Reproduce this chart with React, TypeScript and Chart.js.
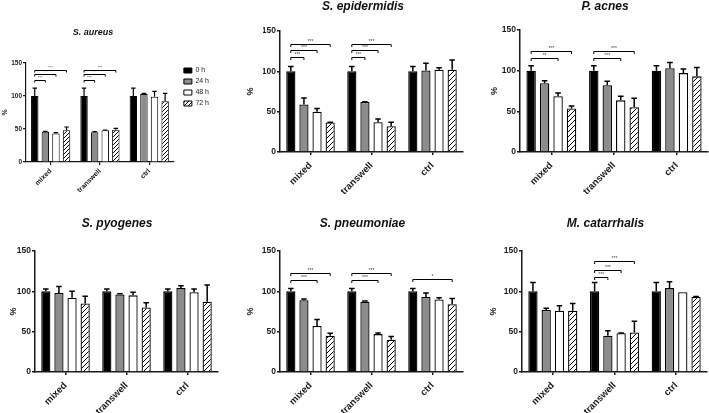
import React, { useEffect, useRef } from "react";
import { Chart, registerables } from "chart.js";

Chart.register(...registerables);
Chart.defaults.font.family = "'Liberation Sans', Arial, Helvetica, sans-serif";

// ---------------- data ----------------
const categories = ["mixed", "transwell", "ctrl"];
const seriesLabels = ["0 h", "24 h", "48 h", "72 h"];
const yTicks = [0, 50, 100, 150];
const yAxisLabel = "%";
const panelTitles = ["S. aureus", "S. epidermidis", "P. acnes", "S. pyogenes", "S. pneumoniae", "M. catarrhalis"];

// rows = series (0 h, 24 h, 48 h, 72 h), columns = categories (mixed, transwell, ctrl)
const aureusMeans = [[100, 100, 100], [46, 45, 103], [43, 48, 99], [48, 49, 92]];
const aureusErrors = [[12, 12, 12], [0.5, 1, 1], [1.5, 0.5, 8], [5, 2, 12]];
const epidermidisMeans = [[100, 100, 100], [59, 62, 101], [50, 37, 102], [36.5, 32, 102]];
const epidermidisErrors = [[6, 6, 6], [8, 0.3, 9], [4, 4, 2.5], [0.5, 5, 12]];
const acnesMeans = [[100, 100, 100], [84.5, 82, 103], [68.5, 63.5, 97], [53.5, 55, 93]];
const acnesErrors = [[6, 6, 6], [3, 5, 7], [4, 5, 5], [3, 11, 11]];
const pyogenesMeans = [[100, 100, 100], [98, 96, 104], [92, 95, 99], [85, 80, 87]];
const pyogenesErrors = [[3, 3, 3], [8, 1, 3], [8, 4, 4], [9, 6, 21]];
const pneumoniaeMeans = [[100, 100, 100], [89, 87, 93], [57, 47, 90], [45, 40, 84]];
const pneumoniaeErrors = [[3.5, 3.5, 3.5], [1.5, 1, 5], [8, 1.5, 2], [3, 4, 7]];
const catarrhalisMeans = [[100, 100, 100], [77, 45, 104], [76, 48, 99], [76, 49, 93]];
const catarrhalisErrors = [[11, 11, 11], [2, 6, 8], [6, 0.5, 0], [9, 14, 0.5]];

// significance brackets: category index, from series, to series, bracket height (data units), label
type Sig = { cat: number; from: number; to: number; y: number; label: string };
const aureusSig: Sig[] = [
  { cat: 0, from: 0, to: 1, y: 124.5, label: "***" },
  { cat: 0, from: 0, to: 2, y: 133, label: "***" },
  { cat: 0, from: 0, to: 3, y: 140, label: "***" },
  { cat: 1, from: 0, to: 1, y: 124.5, label: "***" },
  { cat: 1, from: 0, to: 2, y: 133, label: "***" },
  { cat: 1, from: 0, to: 3, y: 140, label: "***" },
];
const epidermidisSig: Sig[] = [
  { cat: 0, from: 0, to: 1, y: 118, label: "***" },
  { cat: 0, from: 0, to: 2, y: 126, label: "***" },
  { cat: 0, from: 0, to: 3, y: 134, label: "***" },
  { cat: 1, from: 0, to: 1, y: 118, label: "***" },
  { cat: 1, from: 0, to: 2, y: 126, label: "***" },
  { cat: 1, from: 0, to: 3, y: 134, label: "***" },
];
const acnesSig: Sig[] = [
  { cat: 0, from: 0, to: 2, y: 115, label: "**" },
  { cat: 0, from: 0, to: 3, y: 124, label: "***" },
  { cat: 1, from: 0, to: 2, y: 115, label: "***" },
  { cat: 1, from: 0, to: 3, y: 124, label: "***" },
];
const pyogenesSig: Sig[] = [];
const pneumoniaeSig: Sig[] = [
  { cat: 0, from: 0, to: 2, y: 114.5, label: "***" },
  { cat: 0, from: 0, to: 3, y: 123, label: "***" },
  { cat: 1, from: 0, to: 2, y: 114.5, label: "***" },
  { cat: 1, from: 0, to: 3, y: 123, label: "***" },
  { cat: 2, from: 0, to: 3, y: 115, label: "*" },
];
const catarrhalisSig: Sig[] = [
  { cat: 1, from: 0, to: 1, y: 118, label: "***" },
  { cat: 1, from: 0, to: 2, y: 126, label: "***" },
  { cat: 1, from: 0, to: 3, y: 137, label: "***" },
];

// ---------------- layout / style ----------------
type Spec = {
  L: number; R: number; T: number; B: number; // target chart area (page px)
  tx: number; ty: number; px: number;          // title centre x/y, y-title centre x
  Lc: number; Tc: number; Bc: number; pR: number;
  W?: number; yW?: number; legend?: boolean; gap?: number;
  titleSize: number; yTickSize: number; xTickSize: number; yTitleSize: number; xPad: number;
  sigSize: number; sigDrop: number; bw: number; lw: number; hatch: number;
};

const big = { titleSize: 12, yTickSize: 8.5, xTickSize: 9.5, yTitleSize: 9, xPad: 5, sigSize: 5, sigDrop: 2.5, bw: 1.3, lw: 1.5, hatch: 5 };
const specs: Spec[] = [
  { L: 26, R: 174, T: 63, B: 162, tx: 93, ty: 32.5, px: 5.5, Lc: -33, Tc: 15, Bc: 200, pR: 0, W: 252, yW: 59, legend: true, gap: 6,
    titleSize: 9, yTickSize: 6.5, xTickSize: 7, yTitleSize: 7, xPad: 2, sigSize: 4, sigDrop: 2, bw: 1, lw: 1.2, hatch: 4 },
  { L: 280, R: 463, T: 31, B: 152, tx: 363, ty: 7, px: 251, Lc: 240, Tc: 0, Bc: 200, pR: 3, ...big },
  { L: 520, R: 708, T: 30, B: 152, tx: 605, ty: 6.5, px: 495, Lc: 480, Tc: 0, Bc: 200, pR: 1, ...big },
  { L: 35, R: 218, T: 251, B: 372, tx: 117, ty: 223.5, px: 13.3, Lc: 0, Tc: 205, Bc: 413, pR: 3, ...big },
  { L: 280, R: 463, T: 251, B: 372, tx: 362.5, ty: 224, px: 250.7, Lc: 240, Tc: 205, Bc: 413, pR: 3, ...big },
  { L: 522, R: 707, T: 251, B: 372, tx: 605.5, ty: 224, px: 493.3, Lc: 480, Tc: 205, Bc: 413, pR: 2, ...big },
];

const panelData = [
  { means: aureusMeans, errors: aureusErrors, sig: aureusSig },
  { means: epidermidisMeans, errors: epidermidisErrors, sig: epidermidisSig },
  { means: acnesMeans, errors: acnesErrors, sig: acnesSig },
  { means: pyogenesMeans, errors: pyogenesErrors, sig: pyogenesSig },
  { means: pneumoniaeMeans, errors: pneumoniaeErrors, sig: pneumoniaeSig },
  { means: catarrhalisMeans, errors: catarrhalisErrors, sig: catarrhalisSig },
];

function geom(s: Spec) {
  const yW = s.yW ?? s.L + s.R - 2 * s.tx;
  const pL = s.L - yW - s.Lc;
  const W = s.W ?? s.R - s.Lc + s.pR;
  const H = s.Bc - s.Tc;
  const xH = s.Bc - s.B;
  const lh = s.titleSize * 1.2;
  const tTop = s.ty - s.Tc - lh / 2;
  const tBottom = s.T - s.Tc - lh - tTop;
  const ylh = s.yTitleSize * 1.2;
  const yTitlePad = s.px - (s.L - yW) - ylh / 2;
  return { yW, pL, W, H, xH, tTop, tBottom, yTitlePad };
}

function makeHatch(size: number) {
  const c = document.createElement("canvas");
  c.width = size; c.height = size;
  const g = c.getContext("2d")!;
  g.fillStyle = "#ffffff";
  g.fillRect(0, 0, size, size);
  g.strokeStyle = "#000000";
  g.lineWidth = 1;
  g.beginPath();
  g.moveTo(-1, size + 1); g.lineTo(size + 1, -1);
  g.moveTo(-1, 1); g.lineTo(1, -1);
  g.moveTo(size - 1, size + 1); g.lineTo(size + 1, size - 1);
  g.stroke();
  return g.createPattern(c, "repeat")!;
}

const ink = "#1a1a1a";

function Panel({ idx }: { idx: number }) {
  const ref = useRef<HTMLCanvasElement>(null);
  const s = specs[idx];
  const gm = geom(s);
  useEffect(() => {
    const { means, errors, sig } = panelData[idx];
    const fills: any[] = ["#000000", "#8c8c8c", "#ffffff", makeHatch(s.hatch)];
    const tickFontY = { size: s.yTickSize, weight: "bold" as const };
    const tickFontX = { size: s.xTickSize, weight: "bold" as const };

    const overlay = {
      id: "errSig" + idx,
      afterDatasetsDraw(chart: any) {
        const ctx = chart.ctx as CanvasRenderingContext2D;
        const ys = chart.scales.y;
        ctx.save();
        ctx.strokeStyle = "#000";
        ctx.lineWidth = s.lw;
        errors.forEach((row, di) => {
          const meta = chart.getDatasetMeta(di);
          row.forEach((e, ci) => {
            if (!e) return;
            const bar = meta.data[ci];
            const yTop = ys.getPixelForValue(means[di][ci] + e);
            const cap = bar.width * 0.3;
            ctx.beginPath();
            ctx.moveTo(bar.x, bar.y);
            ctx.lineTo(bar.x, yTop);
            ctx.moveTo(bar.x - cap, yTop);
            ctx.lineTo(bar.x + cap, yTop);
            ctx.stroke();
          });
        });
        ctx.lineWidth = 1;
        ctx.font = `${s.sigSize}px 'Liberation Sans', Arial, sans-serif`;
        ctx.fillStyle = "#444";
        ctx.textAlign = "center";
        ctx.textBaseline = "bottom";
        sig.forEach((g) => {
          const x0 = chart.getDatasetMeta(g.from).data[g.cat].x;
          const x1 = chart.getDatasetMeta(g.to).data[g.cat].x;
          const y = Math.round(ys.getPixelForValue(g.y)) + 0.5;
          ctx.beginPath();
          ctx.moveTo(x0, y + s.sigDrop);
          ctx.lineTo(x0, y);
          ctx.lineTo(x1, y);
          ctx.lineTo(x1, y + s.sigDrop);
          ctx.stroke();
          ctx.fillText(g.label, (x0 + x1) / 2, y - 0.5);
        });
        ctx.restore();
      },
    };

    const scales: any = {
      x: {
        grid: { display: true, drawOnChartArea: false, offset: false, tickLength: 3, color: ink, lineWidth: s.lw },
        border: { display: true, color: ink, width: s.lw },
        ticks: { font: tickFontX, color: ink, minRotation: 45, maxRotation: 45, autoSkip: false, padding: s.xPad },
        afterFit: (sc: any) => { sc.height = gm.xH; },
      },
      y: {
        min: 0,
        max: 150,
        afterBuildTicks: (sc: any) => { sc.ticks = yTicks.map((v) => ({ value: v })); },
        grid: { display: true, drawOnChartArea: false, tickLength: 3, color: ink, lineWidth: s.lw },
        border: { display: true, color: ink, width: s.lw },
        ticks: { font: tickFontY, color: ink, padding: 1 },
        title: { display: true, text: yAxisLabel, color: ink, font: { size: s.yTitleSize, weight: "bold" }, padding: { top: gm.yTitlePad, bottom: 0 } },
        afterFit: (sc: any) => { sc.width = gm.yW; },
      },
    };
    if (s.legend) {
      scales.gap = {
        type: "linear",
        position: "right",
        display: true,
        grid: { display: false },
        border: { display: false },
        ticks: { display: false },
        afterFit: (sc: any) => { sc.width = s.gap; },
      };
    }

    const chart = new Chart(ref.current!, {
      type: "bar",
      data: {
        labels: categories,
        datasets: seriesLabels.map((lab, i) => ({
          label: lab,
          data: means[i],
          backgroundColor: fills[i],
          borderColor: "#000",
          borderWidth: s.bw,
          categoryPercentage: 0.86,
          barPercentage: 0.7,
        })),
      },
      options: {
        responsive: false,
        animation: false,
        events: [],
        layout: { padding: { left: gm.pL, right: s.pR, top: 0, bottom: 0 } },
        plugins: {
          legend: s.legend
            ? {
                display: true,
                position: "right",
                align: "start",
                fullSize: false,
                labels: { boxWidth: 8, boxHeight: 5, padding: 4, color: ink, font: { size: 7 } },
              }
            : { display: false },
          title: {
            display: true,
            text: panelTitles[idx],
            color: "#111",
            font: { size: s.titleSize, weight: "bold", style: "italic", lineHeight: 1.2 },
            padding: { top: gm.tTop, bottom: gm.tBottom },
          },
          tooltip: { enabled: false },
        },
        scales,
      } as any,
      plugins: [overlay],
    });
    return () => chart.destroy();
  }, []);
  return (
    <canvas
      ref={ref}
      width={gm.W}
      height={gm.H}
      style={{ position: "absolute", left: s.Lc, top: s.Tc, width: gm.W, height: gm.H }}
    />
  );
}

export default function App() {
  return (
    <div style={{ position: "fixed", left: 0, top: 0, width: 709, height: 413, background: "#fff", overflow: "hidden" }}>
      {specs.map((_, i) => (
        <Panel key={i} idx={i} />
      ))}
    </div>
  );
}
